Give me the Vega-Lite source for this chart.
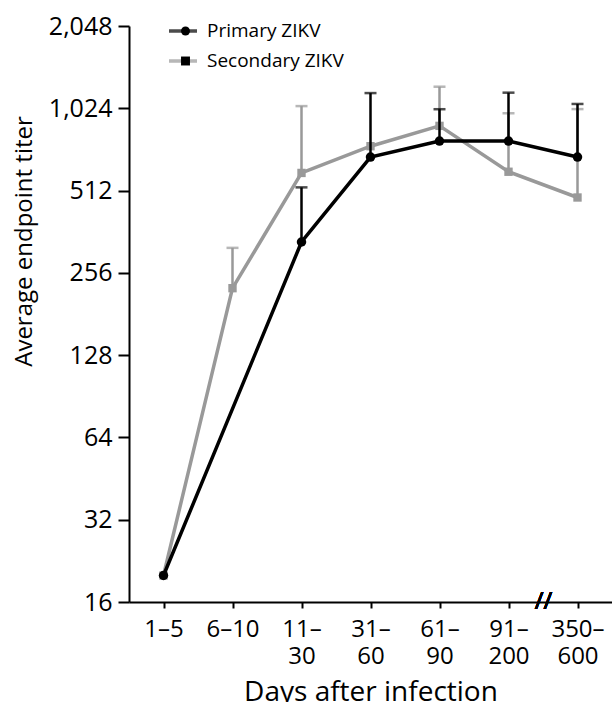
{
  "$schema": "https://vega.github.io/schema/vega-lite/v6.json",
  "width": 483,
  "height": 576,
  "autosize": {"type": "none"},
  "padding": {"left": 129, "top": 26, "right": 0, "bottom": 100},
  "background": "white",
  "config": {
    "font": "Open Sans",
    "view": {"stroke": null},
    "axis": {"grid": false, "domainColor": "#000", "tickColor": "#000", "labelColor": "#000", "titleColor": "#000", "domainWidth": 2, "tickWidth": 2, "titleFontWeight": "normal"}
  },
  "data": {
    "values": [
      {"day": "1–5", "series": "Primary ZIKV", "series2": "Primary ZIKV", "titer": 20, "upper": null},
      {"day": "11–30", "series": "Primary ZIKV", "series2": "Primary ZIKV", "titer": 332, "upper": 526},
      {"day": "31–60", "series": "Primary ZIKV", "series2": "Primary ZIKV", "titer": 679, "upper": 1164},
      {"day": "61–90", "series": "Primary ZIKV", "series2": "Primary ZIKV", "titer": 777, "upper": 1016},
      {"day": "91–200", "series": "Primary ZIKV", "series2": "Primary ZIKV", "titer": 777, "upper": 1168},
      {"day": "350–600", "series": "Primary ZIKV", "series2": "Primary ZIKV", "titer": 679, "upper": 1062},
      {"day": "1–5", "series": "Secondary ZIKV", "series2": "Secondary ZIKV", "titer": 20, "upper": null},
      {"day": "6–10", "series": "Secondary ZIKV", "series2": "Secondary ZIKV", "titer": 225, "upper": 316},
      {"day": "11–30", "series": "Secondary ZIKV", "series2": "Secondary ZIKV", "titer": 594, "upper": 1043},
      {"day": "31–60", "series": "Secondary ZIKV", "series2": "Secondary ZIKV", "titer": 744, "upper": null},
      {"day": "61–90", "series": "Secondary ZIKV", "series2": "Secondary ZIKV", "titer": 883, "upper": 1228},
      {"day": "91–200", "series": "Secondary ZIKV", "series2": "Secondary ZIKV", "titer": 600, "upper": 982},
      {"day": "350–600", "series": "Secondary ZIKV", "series2": "Secondary ZIKV", "titer": 483, "upper": 1017}
    ]
  },
  "encoding": {
    "x": {
      "field": "day", "type": "ordinal",
      "sort": ["1–5", "6–10", "11–30", "31–60", "61–90", "91–200", "350–600"],
      "scale": {"type": "point", "padding": 0.5},
      "axis": {
        "title": "Days after infection", "titleFontSize": 28, "titleBaseline": "alphabetic", "titleY": 98,
        "labelFontSize": 24, "labelAngle": 0, "tickSize": 6, "labelPadding": 9, "labelLineHeight": 27,
        "labelExpr": "length(datum.value) > 4 ? [slice(datum.value, 0, indexof(datum.value, '–') + 1), slice(datum.value, indexof(datum.value, '–') + 1)] : datum.value"
      }
    },
    "y": {
      "field": "titer", "type": "quantitative",
      "scale": {"type": "log", "base": 2, "domain": [16, 2048]},
      "axis": {
        "title": "Average endpoint titer", "titleFontSize": 24, "titleX": -98, "titleY": 215, "titleBaseline": "alphabetic", "titleAlign": "center", "titleAngle": -90,
        "values": [16, 32, 64, 128, 256, 512, 1024, 2048], "format": ",", "labelFontSize": 25, "tickSize": 11, "labelPadding": 6
      }
    }
  },
  "layer": [
    {
      "transform": [{"filter": "datum.series === 'Secondary ZIKV' && datum.upper != null"}],
      "mark": {"type": "rule", "strokeWidth": 2.5},
      "encoding": {"y2": {"field": "upper"}, "color": {"field": "series", "type": "nominal"}}
    },
    {
      "transform": [{"filter": "datum.series === 'Secondary ZIKV' && datum.upper != null"}],
      "mark": {"type": "tick", "thickness": 2.5, "size": 12, "orient": "horizontal"},
      "encoding": {"y": {"field": "upper", "type": "quantitative"}, "color": {"field": "series", "type": "nominal"}}
    },
    {
      "transform": [{"filter": "datum.series === 'Secondary ZIKV'"}],
      "mark": {"type": "line", "strokeWidth": 3.5},
      "encoding": {"color": {"field": "series", "type": "nominal"}}
    },
    {
      "transform": [{"filter": "datum.series === 'Secondary ZIKV'"}],
      "mark": {"type": "point", "filled": true, "opacity": 1, "size": 70},
      "encoding": {"color": {"field": "series", "type": "nominal"}, "shape": {"field": "series2", "type": "nominal"}}
    },
    {
      "transform": [{"filter": "datum.series === 'Primary ZIKV' && datum.upper != null"}],
      "mark": {"type": "rule", "strokeWidth": 2.5},
      "encoding": {"y2": {"field": "upper"}, "color": {"field": "series", "type": "nominal"}}
    },
    {
      "transform": [{"filter": "datum.series === 'Primary ZIKV' && datum.upper != null"}],
      "mark": {"type": "tick", "thickness": 2.5, "size": 12, "orient": "horizontal"},
      "encoding": {"y": {"field": "upper", "type": "quantitative"}, "color": {"field": "series", "type": "nominal"}}
    },
    {
      "transform": [{"filter": "datum.series === 'Primary ZIKV'"}],
      "mark": {"type": "line", "strokeWidth": 3.5},
      "encoding": {
        "color": {
          "field": "series", "type": "nominal",
          "scale": {"domain": ["Primary ZIKV", "Secondary ZIKV"], "range": ["#000000", "#999999"]},
          "legend": {
            "title": null, "orient": "none", "legendX": 38, "legendY": -10, "direction": "vertical",
            "symbolType": "stroke", "symbolSize": 784, "symbolStrokeWidth": 3.5, "clipHeight": 30, "rowPadding": 0,
            "labelFontSize": 19, "labelOffset": 8, "labelColor": "#000", "padding": 0
          }
        }
      }
    },
    {
      "transform": [{"filter": "datum.series === 'Primary ZIKV'"}],
      "mark": {"type": "point", "filled": true, "opacity": 1, "size": 90},
      "encoding": {
        "color": {"field": "series", "type": "nominal"},
        "shape": {
          "field": "series2", "type": "nominal",
          "scale": {"range": ["circle", "square"]},
          "legend": {
            "title": null, "orient": "none", "legendX": 47, "legendY": -10, "direction": "vertical",
            "symbolSize": 80, "clipHeight": 30, "rowPadding": 0, "labelFontSize": 19, "labelExpr": "''", "padding": 0,
            "encode": {"symbols": {"update": {"fill": {"signal": "datum.value === 'Primary ZIKV' ? '#000000' : '#999999'"}, "stroke": {"value": "transparent"}, "opacity": {"value": 1}}}}
          }
        }
      }
    },
    {
      "mark": {"type": "text", "text": "//", "fontSize": 24, "dx": -34, "dy": 0, "baseline": "middle", "align": "center", "color": "#000"},
      "encoding": {"x": {"datum": "350–600"}, "y": {"datum": 16}}
    }
  ]
}
